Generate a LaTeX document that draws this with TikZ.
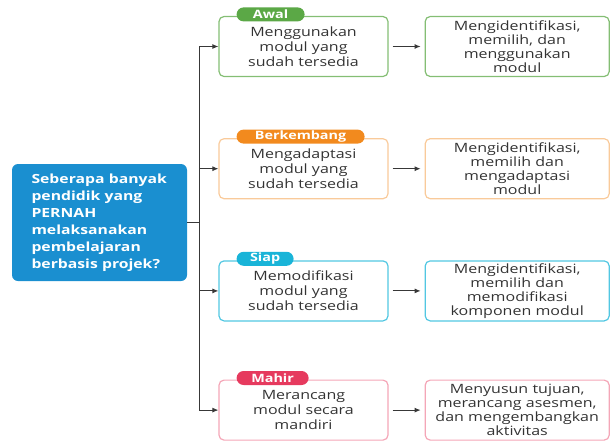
\documentclass[tikz,border=0pt]{standalone}
\usepackage{xcolor}
\usepackage{fontspec}
\setmainfont{Open Sans}[FakeStretch=1.25]
\usetikzlibrary{shapes,arrows.meta,positioning}
\definecolor{askblue}{HTML}{1A8FD0}
\definecolor{awalgreen}{HTML}{5BA846}
\definecolor{bkorange}{HTML}{F28A1E}
\definecolor{siapcyan}{HTML}{19B4D8}
\definecolor{mahirred}{HTML}{E63A5E}
\definecolor{textgray}{HTML}{333333}
\definecolor{linegray}{HTML}{383838}
\tikzstyle{question} = [rectangle, fill=askblue, text=white, rounded corners=6pt,
    minimum width=175pt, minimum height=117pt, text width=136pt, align=left,
    font=\fontsize{12.6}{17}\selectfont\bfseries]
\tikzstyle{stage} = [rectangle, draw, line width=1.2pt, rounded corners=5pt,
    minimum width=169pt, minimum height=60pt, text width=160pt, align=center,
    inner ysep=1pt, text=textgray, font=\fontsize{12.8}{15}\selectfont]
\tikzstyle{action} = [stage, minimum width=184pt, text width=176pt,
    inner ysep=0pt, font=\fontsize{12.8}{14}\selectfont]
\tikzstyle{tag} = [rectangle, rounded corners=7pt, text=white, anchor=west,
    minimum height=14pt, inner ysep=0pt, font=\fontsize{11.5}{12}\selectfont\bfseries]
\tikzstyle{line} = [draw, -{Latex[length=6pt, width=5pt]}, linegray, line width=0.9pt]

\begin{document}
\begin{tikzpicture}[x=1pt, y=-1pt]
    \useasboundingbox (0,0) rectangle (610,440);
    % Place nodes
    \node [question] (node_0) at (99.5,222.5) {Seberapa banyak\\pendidik yang\\PERNAH\\melaksanakan\\pembelajaran\\berbasis projek?};

    \node [stage, draw=awalgreen!75] (node_1) at (303.5,46.5) {Menggunakan\\modul yang\\sudah tersedia};
    \node [stage, draw=bkorange!45, below=61pt of node_1] (node_2) {Mengadaptasi\\modul yang\\sudah tersedia};
    \node [stage, draw=siapcyan!75, below=61pt of node_2] (node_3) {Memodifikasi\\modul yang\\sudah tersedia};
    \node [stage, draw=mahirred!45, below=58pt of node_3] (node_4) {Merancang\\modul secara\\mandiri};

    \node [action, draw=awalgreen!75, right=36pt of node_1] (node_5) {Mengidentifikasi,\\memilih, dan\\menggunakan\\modul};
    \node [action, draw=bkorange!45, right=36pt of node_2] (node_6) {Mengidentifikasi,\\memilih dan\\mengadaptasi\\modul};
    \node [action, draw=siapcyan!75, right=36pt of node_3] (node_7) {Mengidentifikasi,\\memilih dan\\memodifikasi\\komponen modul};
    \node [action, draw=mahirred!45, right=36pt of node_4] (node_8) {Menyusun tujuan,\\merancang asesmen,\\dan mengembangkan\\aktivitas};

    % Level tags
    \node [tag, fill=awalgreen, minimum width=68pt] (tag_1) at ([xshift=18pt, yshift=1.5pt]node_1.north west) {Awal};
    \node [tag, fill=bkorange, minimum width=128pt] (tag_2) at ([xshift=18pt, yshift=1.5pt]node_2.north west) {Berkembang};
    \node [tag, fill=siapcyan, minimum width=57pt] (tag_3) at ([xshift=18pt, yshift=1.5pt]node_3.north west) {Siap};
    \node [tag, fill=mahirred, minimum width=72pt] (tag_4) at ([xshift=18pt, yshift=1.5pt]node_4.north west) {Mahir};

    \coordinate (trunk) at (199,222);
    \path [draw, linegray, line width=0.9pt] (node_0.east |- trunk) -- (trunk);
    \path [line] (trunk) |- (node_1.west);
    \path [line] (trunk) |- (node_2.west);
    \path [line] (trunk) |- (node_3.west);
    \path [line] (trunk) |- (node_4.west);

    \path [line, shorten <=4pt, shorten >=4pt] (node_1) -- (node_5);
    \path [line, shorten <=4pt, shorten >=4pt] (node_2) -- (node_6);
    \path [line, shorten <=4pt, shorten >=4pt] (node_3) -- (node_7);
    \path [line, shorten <=4pt, shorten >=4pt] (node_4) -- (node_8);

\end{tikzpicture}
\end{document}
